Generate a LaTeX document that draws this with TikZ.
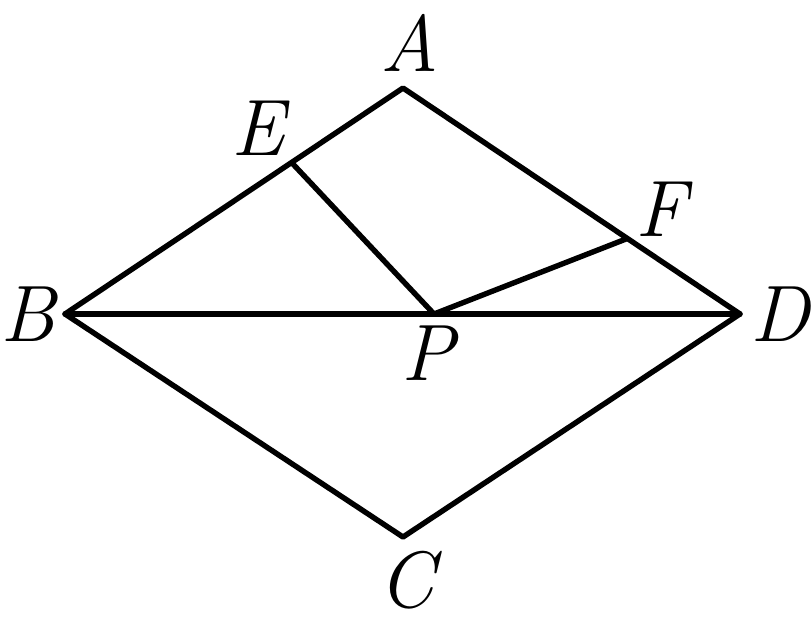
\documentclass[tikz,border=0pt]{standalone}
\begin{document}
\begin{tikzpicture}[x=1pt,y=-1pt,
  seg/.style={line width=5.4pt,line join=round,line cap=round},
  lab/.style={inner sep=0pt,font=\fontsize{80}{88}\selectfont\itshape}]
\useasboundingbox (0,0) rectangle (811,634);
\coordinate (A) at (403,88);
\coordinate (B) at (65,314);
\coordinate (C) at (403,537);
\coordinate (D) at (740,314);
\coordinate (E) at (292,163);
\coordinate (F) at (626,239);
\coordinate (P) at (434,314);
\draw[seg] (A) -- (B) -- (C) -- (D) -- cycle;
\draw[seg] (B) -- (D);
\draw[seg] (E) -- (P) -- (F);
\node[lab] (lA) at (410,43) {A};
\node[lab] (lE) at (258,128) {E};
\node[lab] (lF) at (661,209) {F};
\node[lab] (lB) at (28,314) {B};
\node[lab] (lD) at (780,314) {D};
\node[lab] (lP) at (428,353) {P};
\node[lab] (lC) at (406,580) {C};
\end{tikzpicture}
\end{document}
